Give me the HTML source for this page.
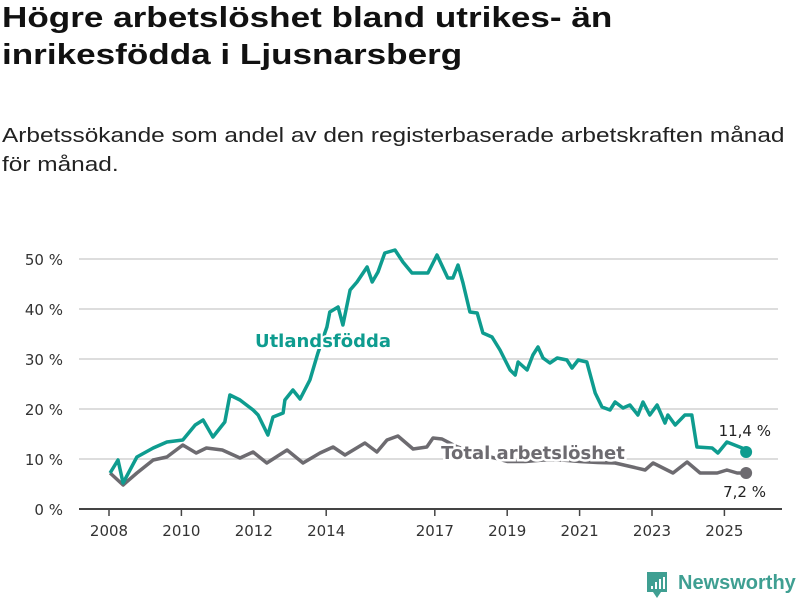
<!DOCTYPE html>
<html><head><meta charset="utf-8"><style>
body{margin:0;background:#fff;width:800px;height:600px;overflow:hidden;font-family:"Liberation Sans",sans-serif}
h1{position:absolute;left:2px;top:0;margin:0;font-size:29px;line-height:37px;font-weight:bold;color:#111;transform:scaleX(1.21);transform-origin:0 0;white-space:nowrap}
.sub{position:absolute;left:2px;top:121px;font-size:20.5px;line-height:29px;color:#222;transform:scaleX(1.19);transform-origin:0 0;white-space:nowrap}
svg{position:absolute;left:0;top:0}
</style></head><body>
<h1>Högre arbetslöshet bland utrikes- än<br>inrikesfödda i Ljusnarsberg</h1>
<div class="sub">Arbetssökande som andel av den registerbaserade arbetskraften månad<br>för månad.</div>
<svg id="chart" width="800" height="600"></svg>
<script>
const yTicks=[0,10,20,30,40,50];
const xTicks=[2008,2010,2012,2014,2017,2019,2021,2023,2025];
const utlT=[2008.03,2008.25,2008.39,2008.77,2009.22,2009.6,2010.04,2010.38,2010.6,2010.87,2011.2,2011.34,2011.62,2011.98,2012.12,2012.39,2012.53,2012.81,2012.86,2013.08,2013.28,2013.55,2013.77,2014.02,2014.1,2014.33,2014.46,2014.66,2014.85,2015.13,2015.27,2015.43,2015.62,2015.9,2016.12,2016.37,2016.81,2017.06,2017.36,2017.5,2017.64,2017.78,2017.97,2018.17,2018.33,2018.58,2018.8,2019.08,2019.22,2019.3,2019.55,2019.71,2019.85,2019.99,2020.18,2020.38,2020.65,2020.79,2020.96,2021.2,2021.43,2021.62,2021.84,2021.98,2022.2,2022.39,2022.61,2022.75,2022.94,2023.14,2023.36,2023.44,2023.64,2023.91,2024.1,2024.24,2024.66,2024.82,2025.07,2025.49,2025.6];
const utlV=[7.2,9.8,5.2,10.4,12.2,13.4,13.8,16.8,17.8,14.4,17.4,22.8,21.8,19.8,18.8,14.8,18.4,19.2,21.8,23.8,22,25.8,31.2,36.4,39.4,40.4,36.8,43.8,45.4,48.4,45.4,47.4,51.2,51.8,49.4,47.2,47.2,50.8,46.2,46.2,48.8,45.2,39.4,39.2,35.2,34.4,31.8,27.8,26.8,29.4,27.8,30.8,32.4,30.2,29.2,30.2,29.8,28.2,29.8,29.4,23.2,20.4,19.8,21.4,20.2,20.8,18.8,21.4,18.8,20.8,17.2,18.8,16.8,18.8,18.8,12.4,12.2,11.2,13.4,12.2,11.4];
const totT=[2008.03,2008.39,2008.77,2009.22,2009.6,2010.04,2010.41,2010.69,2011.13,2011.62,2011.98,2012.36,2012.92,2013.36,2013.83,2014.19,2014.52,2015.07,2015.4,2015.68,2015.98,2016.4,2016.78,2016.95,2017.2,2017.6,2018.0,2018.5,2019.0,2019.5,2020,2020.5,2021,2021.5,2021.98,2022.4,2022.81,2023.03,2023.58,2023.97,2024.33,2024.8,2025.07,2025.35,2025.6];
const totV=[7.2,4.8,7.2,9.8,10.4,12.8,11.2,12.2,11.8,10.2,11.4,9.2,11.8,9.2,11.2,12.4,10.8,13.2,11.4,13.8,14.6,12,12.4,14.2,14,12.5,11.5,10.5,9.5,9.5,9.8,9.8,9.5,9.3,9.2,8.5,7.8,9.2,7.2,9.4,7.2,7.2,7.8,7.2,7.2];
const NS='http://www.w3.org/2000/svg';
const svg=document.getElementById('chart');
const FONT='DejaVu Sans, sans-serif';
const X=t=>109+(t-2008)*36.2, Y=v=>509-v*5;
function mk(tag,a,parent){const e=document.createElementNS(NS,tag);for(const k in a)e.setAttribute(k,a[k]);(parent||svg).appendChild(e);return e;}
yTicks.forEach(v=>{
 if(v>0){const g=mk('line',{x1:79,x2:778,y1:Y(v),y2:Y(v),stroke:'#ddd','stroke-width':2});
 
 }
 const t=mk('text',{x:63,y:Y(v)+6,'text-anchor':'end','font-size':15,fill:'#333','font-family':FONT});t.textContent=v+' %';
 
 
});
const ax=mk('line',{x1:79,x2:782,y1:509,y2:509,stroke:'#444','stroke-width':2});


xTicks.forEach(yr=>{
 const tk=mk('line',{x1:X(yr),x2:X(yr),y1:509,y2:516,stroke:'#444','stroke-width':1.5});
 
 
 const t=mk('text',{x:X(yr),y:536,'text-anchor':'middle','font-size':15,fill:'#333','font-family':FONT});t.textContent=yr;
 
 
});
function line(T,V,col,name){
 const d=T.map((t,i)=>(i?'L':'M')+X(t).toFixed(1)+','+Y(V[i]).toFixed(1)).join('');
 const p=mk('path',{d:d,fill:'none',stroke:col,'stroke-width':3.5,'stroke-linejoin':'round'});
 
 
 const n=T.length-1;
 const c=mk('circle',{cx:X(T[n]),cy:Y(V[n]),r:6,fill:col});
 
 
}
line(totT,totV,'#6d6b70','total-line');
const tl=mk('text',{x:533,y:459,'text-anchor':'middle','font-size':18,'font-weight':'bold',fill:'#6d6b70',stroke:'#fff','stroke-width':5,'paint-order':'stroke','font-family':FONT});tl.textContent='Total arbetslöshet';


line(utlT,utlV,'#0e9c8f','utlandsfodda-line');
const ul=mk('text',{x:323,y:347,'text-anchor':'middle','font-size':18,'font-weight':'bold',fill:'#0e9c8f',stroke:'#fff','stroke-width':4,'paint-order':'stroke','font-family':FONT});ul.textContent='Utlandsfödda';


const v1=mk('text',{x:771,y:436,'text-anchor':'end','font-size':15,fill:'#222','font-family':FONT});v1.textContent='11,4 %';


const v2=mk('text',{x:766,y:497,'text-anchor':'end','font-size':15,fill:'#222','font-family':FONT});v2.textContent='7,2 %';


const lg=mk('g',{});


mk('path',{d:'M647,572h20v20h-6l-4,6l-4,-6h-6z',fill:'#3f9f92'},lg);
[[651,586,2,3],[655,582,2,7],[659,579,2,10],[663,577,2,12]].forEach(b=>mk('rect',{x:b[0],y:b[1],width:b[2],height:b[3],fill:'#fff'},lg));
const lt=mk('text',{x:678,y:589,'font-size':20,'font-weight':'bold',fill:'#3f9f92','font-family':'Liberation Sans, sans-serif'},lg);lt.textContent='Newsworthy';
</script>
</body></html>
